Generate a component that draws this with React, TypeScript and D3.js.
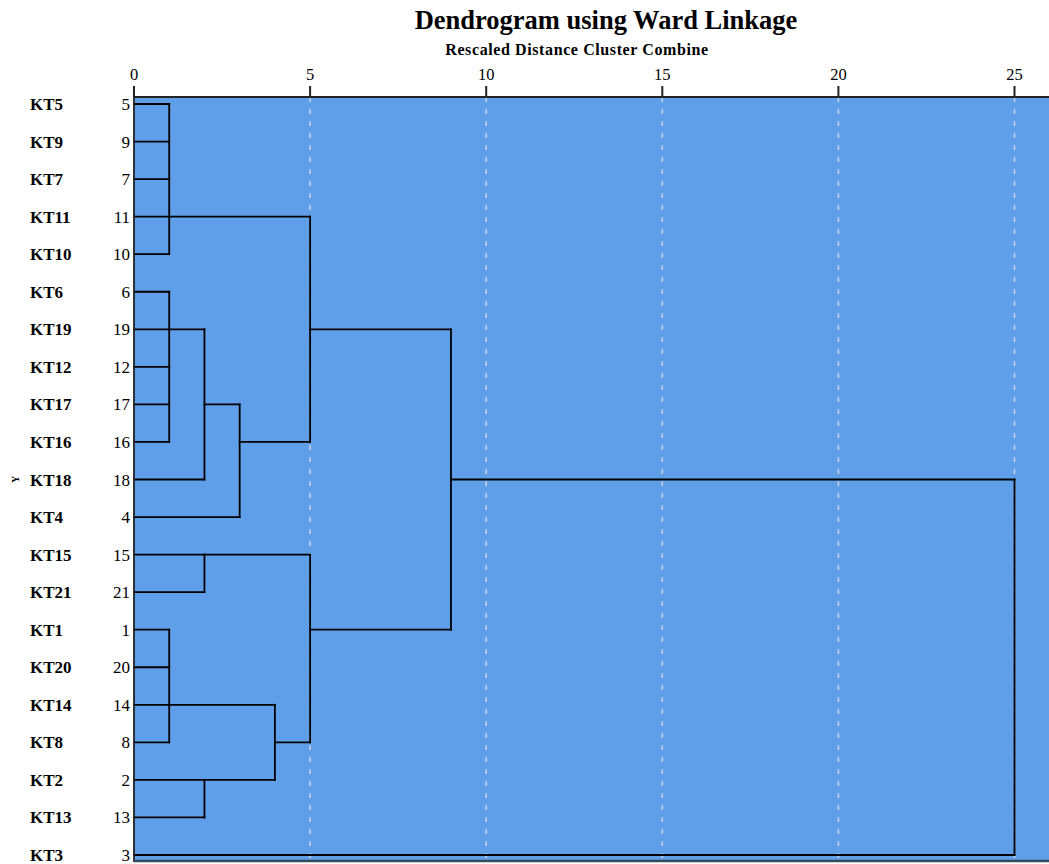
import React from "react";
import * as d3 from "d3";

// leaf order top to bottom (case numbers)
const leafIds = [5, 9, 7, 11, 10, 6, 19, 12, 17, 16, 18, 4, 15, 21, 1, 20, 14, 8, 2, 13, 3];
const leafNames = leafIds.map((d) => "KT" + d);

// merges: children are leaf ids (numbers) or node names, height = rescaled distance,
// anchor = leaf whose row carries the outgoing line
type Merge = { name: string; children: (number | string)[]; height: number; anchor: number | null };
const merges: Merge[] = [
  { name: "A", children: [5, 9, 7, 11, 10], height: 1, anchor: 11 },
  { name: "B1", children: [6, 19, 12, 17, 16], height: 1, anchor: 19 },
  { name: "B2", children: ["B1", 18], height: 2, anchor: 17 },
  { name: "B3", children: ["B2", 4], height: 3, anchor: 16 },
  { name: "AB", children: ["A", "B3"], height: 5, anchor: 19 },
  { name: "C", children: [15, 21], height: 2, anchor: 15 },
  { name: "D", children: [1, 20, 14, 8], height: 1, anchor: 14 },
  { name: "E", children: [2, 13], height: 2, anchor: 2 },
  { name: "DE", children: ["D", "E"], height: 4, anchor: 8 },
  { name: "CDE", children: ["C", "DE"], height: 5, anchor: 1 },
  { name: "ABCDE", children: ["AB", "CDE"], height: 9, anchor: 18 },
  { name: "root", children: ["ABCDE", 3], height: 25, anchor: null },
];

const xTicks = [0, 5, 10, 15, 20, 25];

const W = 1049;
const H = 864;
const serif = "'Liberation Serif', 'Times New Roman', serif";

export default function App() {
  const left = 134;
  const top = 97;
  const bottom = 862;
  const x = d3.scaleLinear().domain([0, 25]).range([left, 1014.5]);
  const y = d3.scalePoint<number>().domain(leafIds).range([104, 855]);

  // parent height for each child
  const parentH = new Map<number | string, number>();
  merges.forEach((m) => m.children.forEach((c) => parentH.set(c, m.height)));
  const rowOf = new Map<number | string, number>();
  leafIds.forEach((id) => rowOf.set(id, y(id)!));
  merges.forEach((m) => {
    if (m.anchor !== null) rowOf.set(m.name, y(m.anchor)!);
  });
  const heightOf = new Map<number | string, number>();
  leafIds.forEach((id) => heightOf.set(id, 0));
  merges.forEach((m) => heightOf.set(m.name, m.height));

  const segs: { x1: number; y1: number; x2: number; y2: number }[] = [];
  // horizontal lines: from own height to parent height on own row
  [...leafIds, ...merges.filter((m) => m.anchor !== null).map((m) => m.name)].forEach((k) => {
    const ph = parentH.get(k);
    if (ph === undefined) return;
    const r = rowOf.get(k)!;
    segs.push({ x1: x(heightOf.get(k)!), y1: r, x2: x(ph), y2: r });
  });
  // vertical lines
  merges.forEach((m) => {
    const rows = m.children.map((c) => rowOf.get(c)!);
    segs.push({ x1: x(m.height), y1: d3.min(rows)!, x2: x(m.height), y2: d3.max(rows)! });
  });

  return (
    <div style={{ position: "absolute", left: 0, top: 0 }}>
      <svg width={W} height={H} style={{ display: "block" }}>
        <rect x={0} y={0} width={W} height={H} fill="#fff" />
        <text x={606} y={29} textAnchor="middle" fontFamily={serif} fontWeight="bold" fontSize={26.5}>
          Dendrogram using Ward Linkage
        </text>
        <text x={577} y={55} textAnchor="middle" fontFamily={serif} fontWeight="bold" fontSize={16} letterSpacing={0.6}>
          Rescaled Distance Cluster Combine
        </text>
        <rect x={left} y={top} width={W - left} height={bottom - top} fill="#5f9ee8" />
        {xTicks.filter((t) => t > 0).map((t) => (
          <line key={"g" + t} x1={x(t)} x2={x(t)} y1={top} y2={bottom} stroke="#c9d3e0" strokeWidth={1.5} strokeDasharray="5,7" />
        ))}
        {segs.map((s, i) => (
          <line key={i} x1={s.x1} y1={s.y1} x2={s.x2} y2={s.y2} stroke="#000" strokeWidth={1.8} strokeLinecap="square" />
        ))}
        <line x1={left} x2={left} y1={top} y2={bottom} stroke="#222" strokeWidth={1.8} />
        <line x1={left} x2={W} y1={bottom - 1} y2={bottom - 1} stroke="#3a4a5e" strokeWidth={2.5} />
        <line x1={left} x2={W} y1={top} y2={top} stroke="#222" strokeWidth={2} />
        {xTicks.map((t) => (
          <g key={"t" + t}>
            <line x1={x(t)} x2={x(t)} y1={top - 11} y2={top} stroke="#222" strokeWidth={2} />
            <text x={x(t)} y={80} textAnchor="middle" fontFamily={serif} fontSize={16.5}>
              {t}
            </text>
          </g>
        ))}
        {leafIds.map((id, i) => (
          <g key={"l" + id}>
            <text x={30} y={y(id)! + 6} fontFamily={serif} fontWeight="bold" fontSize={17}>
              {leafNames[i]}
            </text>
            <text x={130} y={y(id)! + 6} textAnchor="end" fontFamily={serif} fontSize={17}>
              {id}
            </text>
          </g>
        ))}
        <text transform={`translate(16,${y(18)}) rotate(-90)`} textAnchor="middle" dy={3} fontFamily={serif} fontWeight="bold" fontSize={10}>
          Y
        </text>
      </svg>
    </div>
  );
}
